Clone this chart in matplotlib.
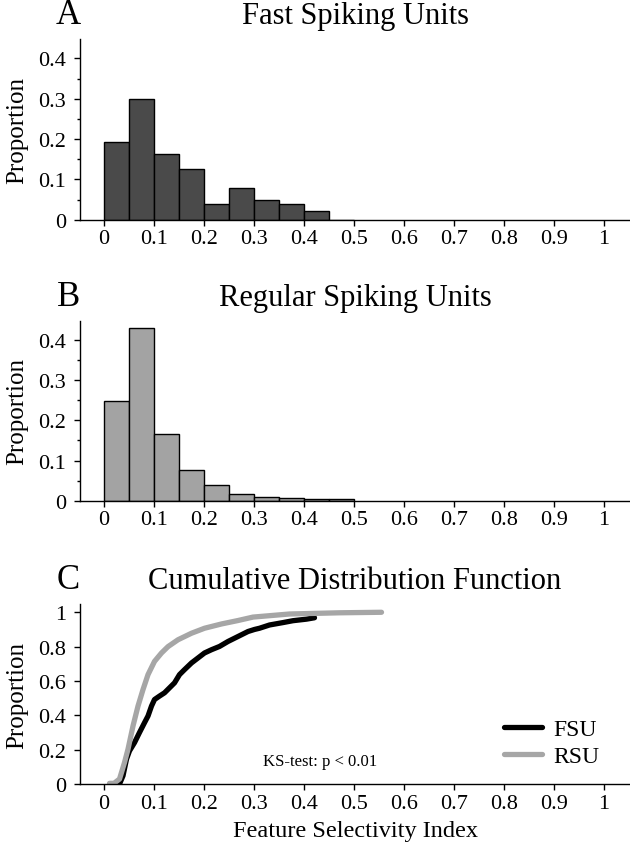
import numpy as np
import matplotlib
matplotlib.use('Agg')
from matplotlib import pyplot as plt
from matplotlib.ticker import MultipleLocator

plt.rcParams['font.family'] = ['Liberation Serif', 'DejaVu Serif']

# histogram data (bin width 0.05)
bin_left = [0.0, 0.05, 0.10, 0.15, 0.20, 0.25, 0.30, 0.35, 0.40, 0.45]
fsu_prop = [0.193, 0.298, 0.164, 0.126, 0.040, 0.078, 0.049, 0.039, 0.021, 0.0]
rsu_prop = [0.249, 0.429, 0.165, 0.076, 0.039, 0.016, 0.009, 0.006, 0.004, 0.004]

# cumulative distributions
fsu_x = [0.031, 0.038, 0.045, 0.051, 0.061, 0.071, 0.081, 0.088, 0.095, 0.101,
         0.111, 0.121, 0.131, 0.141, 0.151, 0.161, 0.175, 0.188, 0.201, 0.215,
         0.231, 0.248, 0.268, 0.288, 0.301, 0.311, 0.331, 0.358, 0.378, 0.405, 0.421]
fsu_y = [0.0, 0.048, 0.145, 0.193, 0.241, 0.300, 0.357, 0.396, 0.454, 0.492,
         0.512, 0.531, 0.560, 0.589, 0.637, 0.666, 0.705, 0.734, 0.763, 0.782,
         0.801, 0.830, 0.859, 0.888, 0.900, 0.907, 0.926, 0.940, 0.951, 0.960, 0.968]
rsu_x = [0.011, 0.020, 0.031, 0.041, 0.048, 0.058, 0.068, 0.078, 0.088, 0.101,
         0.115, 0.128, 0.148, 0.175, 0.201, 0.235, 0.268, 0.298, 0.371, 0.471, 0.555]
rsu_y = [0.004, 0.004, 0.029, 0.125, 0.203, 0.338, 0.454, 0.550, 0.637, 0.714,
         0.763, 0.800, 0.840, 0.878, 0.907, 0.932, 0.952, 0.972, 0.990, 0.997, 1.0]

xticks = np.arange(0, 1.01, 0.1)
xticklabels = ['0', '0.1', '0.2', '0.3', '0.4', '0.5', '0.6', '0.7', '0.8', '0.9', '1']

fig = plt.figure(figsize=(6.3, 8.53), dpi=100)
axA = fig.add_axes([0.127, 0.7413, 0.873, 0.2118])
axB = fig.add_axes([0.127, 0.4118, 0.873, 0.2110])
axC = fig.add_axes([0.127, 0.0797, 0.873, 0.2110])


def style(ax):
    for s in ['top', 'right']:
        ax.spines[s].set_visible(False)
    for s in ['left', 'bottom']:
        ax.spines[s].set_linewidth(1.0)
    ax.set_xlim(-0.048, 1.052)
    ax.set_xticks(xticks)
    ax.set_xticklabels(xticklabels)
    ax.tick_params(which='major', direction='out', length=4, width=1, labelsize=16, pad=3)
    ax.tick_params(axis='y', which='major', pad=6)
    ax.tick_params(which='minor', direction='out', length=2.5, width=1)
    ax.set_ylabel('Proportion', fontsize=18, labelpad=7)


def header(ax, letter, title):
    ax.text(0.5, 1.088, title, transform=ax.transAxes, ha='center', va='baseline', fontsize=22)
    ax.text(-0.021, 1.088, letter, transform=ax.transAxes, ha='center', va='baseline', fontsize=25)


for ax, vals, col in [(axA, fsu_prop, '#4a4a4a'), (axB, rsu_prop, '#a3a3a3')]:
    ax.bar(bin_left, vals, width=0.05, align='edge', color=col, edgecolor='black', linewidth=1)
    style(ax)
    ax.set_ylim(0, 0.448)
    ax.set_yticks([0, 0.1, 0.2, 0.3, 0.4])
    ax.set_yticklabels(['0', '0.1', '0.2', '0.3', '0.4'])
    ax.yaxis.set_minor_locator(MultipleLocator(0.05))

header(axA, 'A', 'Fast Spiking Units')
header(axB, 'B', 'Regular Spiking Units')

axC.plot(fsu_x, fsu_y, color='black', lw=3.8, solid_capstyle='round', label='FSU')
axC.plot(rsu_x, rsu_y, color='#a6a6a6', lw=3.8, solid_capstyle='round', label='RSU')
style(axC)
axC.set_ylim(0, 1.048)
axC.set_yticks([0, 0.2, 0.4, 0.6, 0.8, 1.0])
axC.set_yticklabels(['0', '0.2', '0.4', '0.6', '0.8', '1'])
axC.set_xlabel('Feature Selectivity Index', fontsize=17.5, labelpad=5)
header(axC, 'C', 'Cumulative Distribution Function')
axC.text(0.317, 0.133, 'KS-test: p < 0.01', fontsize=12, va='center', ha='left')
axC.legend(loc='upper left', bbox_to_anchor=(0.771, 0.365), frameon=False, fontsize=17,
           handlelength=1.6, handletextpad=0.5, labelspacing=0.25, borderpad=0, borderaxespad=0)

fig.savefig('out.png', dpi=100)
